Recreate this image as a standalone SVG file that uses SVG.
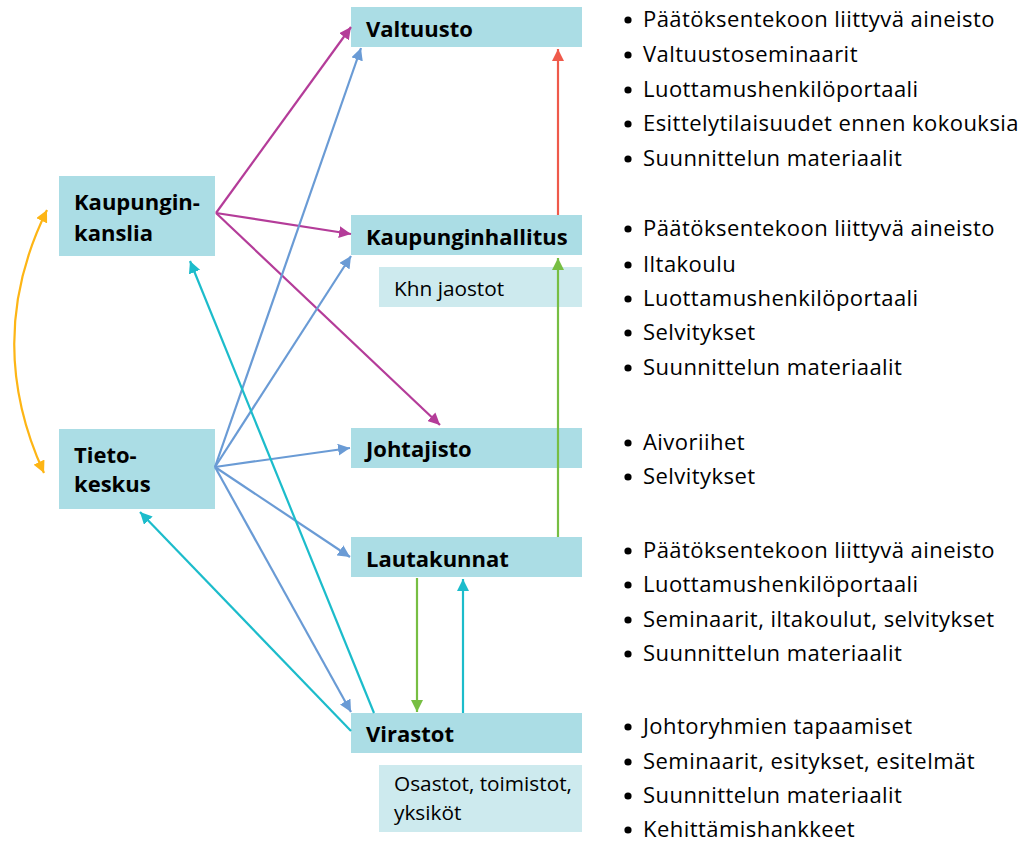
<svg xmlns="http://www.w3.org/2000/svg" width="1025" height="843" viewBox="0 0 1025 843">
<defs>
<style>
.box{fill:#ABDDE5}
.sub{fill:#CDEAEE}
.t{font-family:"Open Sans","Noto Sans","Liberation Sans",sans-serif;font-weight:bold;font-size:22px;fill:#000}
.s{font-family:"Open Sans","Noto Sans","Liberation Sans",sans-serif;font-size:20.8px;fill:#000}
.li{font-family:"Open Sans","Noto Sans","Liberation Sans",sans-serif;font-size:22px;letter-spacing:0.45px;fill:#000}
.c{fill:none;stroke-width:2.2}
.mag{stroke:#B43C99}.blu{stroke:#6A9BD5}.cya{stroke:#1CBCCB}.ora{stroke:#FDB515}.red{stroke:#EF5A4B}.grn{stroke:#77BE43}
</style>
<marker id="aMag" markerUnits="userSpaceOnUse" markerWidth="14" markerHeight="12" refX="12" refY="6" orient="auto"><path d="M0,0L12,6L0,12z" fill="#B43C99"/></marker>
<marker id="aBlu" markerUnits="userSpaceOnUse" markerWidth="14" markerHeight="12" refX="12" refY="6" orient="auto"><path d="M0,0L12,6L0,12z" fill="#6A9BD5"/></marker>
<marker id="aCya" markerUnits="userSpaceOnUse" markerWidth="14" markerHeight="12" refX="12" refY="6" orient="auto"><path d="M0,0L12,6L0,12z" fill="#1CBCCB"/></marker>
<marker id="aOra" markerUnits="userSpaceOnUse" markerWidth="14" markerHeight="12" refX="12" refY="6" orient="auto-start-reverse"><path d="M0,0L12,6L0,12z" fill="#FDB515"/></marker>
<marker id="aRed" markerUnits="userSpaceOnUse" markerWidth="14" markerHeight="12" refX="12" refY="6" orient="auto"><path d="M0,0L12,6L0,12z" fill="#EF5A4B"/></marker>
<marker id="aGrn" markerUnits="userSpaceOnUse" markerWidth="14" markerHeight="12" refX="12" refY="6" orient="auto"><path d="M0,0L12,6L0,12z" fill="#77BE43"/></marker>
</defs>
<rect width="1025" height="843" fill="#fff"/>

<g id="valtuusto"><rect class="box" x="351" y="7" width="231" height="40"/><text class="t" x="366" y="37">Valtuusto</text></g>
<g id="kaupunginhallitus"><rect class="box" x="351" y="215" width="231" height="40"/><text class="t" x="366" y="245">Kaupunginhallitus</text></g>
<g id="khn-jaostot"><rect class="sub" x="379" y="267" width="203" height="40"/><text class="s" x="394" y="296">Khn jaostot</text></g>
<g id="johtajisto"><rect class="box" x="351" y="428" width="231" height="40"/><text class="t" x="366" y="457">Johtajisto</text></g>
<g id="lautakunnat"><rect class="box" x="351" y="537" width="231" height="40"/><text class="t" x="366" y="567">Lautakunnat</text></g>
<g id="virastot"><rect class="box" x="351" y="713" width="231" height="40"/><text class="t" x="366" y="742">Virastot</text></g>
<g id="osastot"><rect class="sub" x="379" y="765" width="203" height="67"/><text class="s" x="394" y="791">Osastot, toimistot,<tspan x="394" y="820">yksiköt</tspan></text></g>
<g id="kaupunginkanslia"><rect class="box" x="59" y="176" width="156" height="80"/><text class="t" x="74" y="210">Kaupungin-<tspan x="74" y="241">kanslia</tspan></text></g>
<g id="tietokeskus"><rect class="box" x="59" y="429" width="156" height="80"/><text class="t" x="74" y="463">Tieto-<tspan x="74" y="492">keskus</tspan></text></g>

<g id="connectors">
<path class="c ora" d="M44,473 Q-17,340 47,210" marker-start="url(#aOra)" marker-end="url(#aOra)"/>
<path class="c mag" d="M216,213 L351,27" marker-end="url(#aMag)"/>
<path class="c mag" d="M216,213 L351,234" marker-end="url(#aMag)"/>
<path class="c mag" d="M216,213 L440,425" marker-end="url(#aMag)"/>
<path class="c blu" d="M215,467 L361,48" marker-end="url(#aBlu)"/>
<path class="c blu" d="M215,467 L351,256" marker-end="url(#aBlu)"/>
<path class="c blu" d="M215,467 L350,448" marker-end="url(#aBlu)"/>
<path class="c blu" d="M215,467 L350,557" marker-end="url(#aBlu)"/>
<path class="c blu" d="M215,467 L351,712" marker-end="url(#aBlu)"/>
<path class="c cya" d="M374,713 L190,261" marker-end="url(#aCya)"/>
<path class="c cya" d="M351,731 L140,512" marker-end="url(#aCya)"/>
<path class="c red" d="M558,215 L558,49" marker-end="url(#aRed)"/>
<path class="c grn" d="M558,537 L558,258" marker-end="url(#aGrn)"/>
<path class="c grn" d="M417,578 L417,712" marker-end="url(#aGrn)"/>
<path class="c cya" d="M463,713 L463,579" marker-end="url(#aCya)"/>
</g>

<g id="lists" fill="#000">
<g id="list-valtuusto">
<circle cx="628" cy="20" r="3.6"/><text class="li" x="643" y="27">Päätöksentekoon liittyvä aineisto</text>
<circle cx="628" cy="55" r="3.6"/><text class="li" x="643" y="62">Valtuustoseminaarit</text>
<circle cx="628" cy="90" r="3.6"/><text class="li" x="643" y="97">Luottamushenkilöportaali</text>
<circle cx="628" cy="124" r="3.6"/><text class="li" x="643" y="131">Esittelytilaisuudet ennen kokouksia</text>
<circle cx="628" cy="159" r="3.6"/><text class="li" x="643" y="166">Suunnittelun materiaalit</text>
</g>
<g id="list-kh">
<circle cx="628" cy="229" r="3.6"/><text class="li" x="643" y="236">Päätöksentekoon liittyvä aineisto</text>
<circle cx="628" cy="265" r="3.6"/><text class="li" x="643" y="272">Iltakoulu</text>
<circle cx="628" cy="299" r="3.6"/><text class="li" x="643" y="306">Luottamushenkilöportaali</text>
<circle cx="628" cy="333" r="3.6"/><text class="li" x="643" y="340">Selvitykset</text>
<circle cx="628" cy="368" r="3.6"/><text class="li" x="643" y="375">Suunnittelun materiaalit</text>
</g>
<g id="list-johtajisto">
<circle cx="628" cy="443" r="3.6"/><text class="li" x="643" y="450">Aivoriihet</text>
<circle cx="628" cy="477" r="3.6"/><text class="li" x="643" y="484">Selvitykset</text>
</g>
<g id="list-lautakunnat">
<circle cx="628" cy="551" r="3.6"/><text class="li" x="643" y="558">Päätöksentekoon liittyvä aineisto</text>
<circle cx="628" cy="585" r="3.6"/><text class="li" x="643" y="592">Luottamushenkilöportaali</text>
<circle cx="628" cy="620" r="3.6"/><text class="li" x="643" y="627">Seminaarit, iltakoulut, selvitykset</text>
<circle cx="628" cy="654" r="3.6"/><text class="li" x="643" y="661">Suunnittelun materiaalit</text>
</g>
<g id="list-virastot">
<circle cx="628" cy="727" r="3.6"/><text class="li" x="643" y="734">Johtoryhmien tapaamiset</text>
<circle cx="628" cy="762" r="3.6"/><text class="li" x="643" y="769">Seminaarit, esitykset, esitelmät</text>
<circle cx="628" cy="796" r="3.6"/><text class="li" x="643" y="803">Suunnittelun materiaalit</text>
<circle cx="628" cy="830" r="3.6"/><text class="li" x="643" y="837">Kehittämishankkeet</text>
</g>
</g>
</svg>
